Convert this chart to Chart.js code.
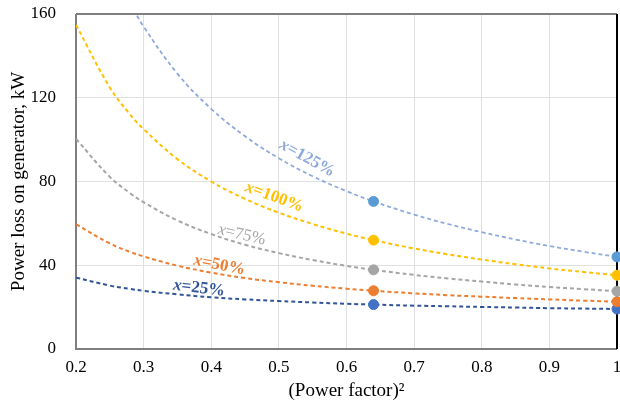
<!DOCTYPE html>
<html>
<head>
<meta charset="utf-8">
<script src="https://cdn.jsdelivr.net/npm/chart.js@4"></script>
<style>
  html, body { margin: 0; padding: 0; background: #fff; }
  #wrap { width: 620px; height: 406px; }
</style>
</head>
<body>
<div id="wrap"><canvas id="chart" width="620" height="406"></canvas></div>
<script>
const pf = [0.2, 0.25, 0.28, 0.3, 0.35, 0.4, 0.45, 0.5, 0.55, 0.6, 0.64, 0.7, 0.75, 0.8, 0.85, 0.9, 0.95, 1];
const loss125 = [null, null, 165, 154, 131.5, 114.7, 101.6, 91.1, 82.5, 75.4, 70.5, 64.2, 59.7, 55.8, 52.3, 49.2, 46.5, 44];
const loss100 = [154.8, 124.9, 112, 105, 90.7, 80, 71.7, 65.1, 59.7, 55.1, 52, 48, 45.2, 42.7, 40.5, 38.5, 36.8, 35.2];
const loss75 = [100.4, 82.2, 74.4, 70.1, 61.4, 54.9, 49.8, 45.8, 42.5, 39.7, 37.8, 35.4, 33.7, 32.2, 30.8, 29.6, 28.6, 27.6];
const loss50 = [59.6, 50.4, 46.4, 44.2, 39.8, 36.5, 33.9, 31.9, 30.2, 28.8, 27.8, 26.6, 25.7, 25, 24.3, 23.7, 23.1, 22.6];
const loss25 = [34.1, 30.3, 28.7, 27.8, 26.1, 24.7, 23.7, 22.9, 22.2, 21.6, 21.2, 20.7, 20.4, 20.1, 19.8, 19.5, 19.3, 19.1];

const markerPf = [0.64, 1];
const mark125 = [70.5, 44];
const mark100 = [52, 35.2];
const mark75 = [37.8, 27.6];
const mark50 = [27.8, 22.6];
const mark25 = [21.2, 19.1];

const seriesNames = ["x=125%", "x=100%", "x=75%", "x=50%", "x=25%"];

const serif = "'Liberation Serif', 'Times New Roman', serif";

function curve(vals, color, width) {
  return {
    type: "line",
    data: pf.map((x, i) => ({ x: x, y: vals[i] })),
    borderColor: color,
    borderWidth: width,
    borderDash: [4, 3],
    pointRadius: 0,
    tension: 0.4,
    spanGaps: false,
    order: 2,
  };
}

function marks(vals, color) {
  return {
    type: "scatter",
    data: markerPf.map((x, i) => ({ x: x, y: vals[i] })),
    backgroundColor: color,
    borderColor: color,
    pointRadius: 5,
    clip: false,
    order: 1,
  };
}

// curve labels, placed in data units, rotated along the curve
const labels = [
  { text: seriesNames[0], x: 0.542, y: 91, angle: 29, color: "#8EA9DB", bold: true },
  { text: seriesNames[1], x: 0.493, y: 72.5, angle: 20, color: "#FFC000", bold: true },
  { text: seriesNames[2], x: 0.445, y: 54.5, angle: 13, color: "#A5A5A5", bold: false },
  { text: seriesNames[3], x: 0.412, y: 40, angle: 11, color: "#ED7D31", bold: true },
  { text: seriesNames[4], x: 0.382, y: 29, angle: 7, color: "#2F5597", bold: true },
];

const curveLabels = {
  id: "curveLabels",
  afterDatasetsDraw(chart) {
    const c = chart.ctx;
    const xs = chart.scales.x, ys = chart.scales.y;
    labels.forEach(l => {
      c.save();
      c.translate(xs.getPixelForValue(l.x), ys.getPixelForValue(l.y));
      c.rotate(l.angle * Math.PI / 180);
      const w = l.bold ? "bold " : "";
      c.fillStyle = l.color;
      c.textBaseline = "middle";
      c.font = "italic " + w + "17px " + serif;
      const wx = c.measureText("x").width;
      c.font = w + "17px " + serif;
      const rest = l.text.slice(1);
      const total = wx + c.measureText(rest).width;
      c.font = "italic " + w + "17px " + serif;
      c.fillText("x", -total / 2, 0);
      c.font = w + "17px " + serif;
      c.fillText(rest, -total / 2 + wx, 0);
      c.restore();
    });
  },
};

const frame = {
  id: "frame",
  beforeDatasetsDraw(chart) {
    const a = chart.chartArea, c = chart.ctx;
    c.save();
    c.strokeStyle = "#7f7f7f";
    c.lineWidth = 2;
    c.beginPath();
    c.moveTo(a.left, a.top);
    c.lineTo(a.right, a.top);
    c.moveTo(a.left, a.top);
    c.lineTo(a.left, a.bottom);
    c.lineTo(a.right, a.bottom);
    c.stroke();
    c.strokeStyle = "#000";
    c.beginPath();
    c.moveTo(a.right, a.top);
    c.lineTo(a.right, a.bottom);
    c.stroke();
    c.restore();
  },
};

new Chart(document.getElementById("chart"), {
  data: {
    datasets: [
      curve(loss125, "#8EA9DB", 1.8),
      curve(loss100, "#FFC000", 2),
      curve(loss75, "#A5A5A5", 2),
      curve(loss50, "#ED7D31", 2),
      curve(loss25, "#2F5597", 2),
      marks(mark125, "#5B9BD5"),
      marks(mark100, "#FFC000"),
      marks(mark75, "#A5A5A5"),
      marks(mark50, "#ED7D31"),
      marks(mark25, "#4472C4"),
    ],
  },
  options: {
    responsive: false,
    animation: false,
    layout: { autoPadding: false, padding: { top: 14, right: 3, left: 0, bottom: 0 } },
    plugins: {
      legend: { display: false },
      tooltip: { enabled: false },
    },
    scales: {
      x: {
        type: "linear",
        min: 0.2,
        max: 1,
        ticks: {
          stepSize: 0.1,
          color: "#000",
          font: { family: serif, size: 17 },
          padding: 8,
          callback: v => (Math.abs(v - 1) < 1e-9 ? "1" : v.toFixed(1)),
        },
        grid: { color: "#e0e0e0", lineWidth: 1, drawTicks: false },
        border: { display: false },
        title: {
          display: true,
          text: "(Power factor)²",
          color: "#000",
          font: { family: serif, size: 19 },
          padding: { top: 5 },
        },
        afterFit(scale) {
          scale.height = 57;
          scale.paddingLeft = 0;
          scale.paddingRight = 0;
        },
      },
      y: {
        min: 0,
        max: 160,
        ticks: {
          stepSize: 40,
          color: "#000",
          font: { family: serif, size: 17 },
          padding: 20,
        },
        grid: { color: "#e0e0e0", lineWidth: 1, drawTicks: false },
        border: { display: false },
        title: {
          display: true,
          text: "Power loss on generator, kW",
          color: "#000",
          font: { family: serif, size: 19 },
          padding: { top: 8, bottom: 0 },
        },
        afterFit(scale) {
          scale.width = 76;
          scale.paddingTop = 0;
          scale.paddingBottom = 0;
        },
      },
    },
  },
  plugins: [frame, curveLabels],
});
</script>
</body>
</html>
